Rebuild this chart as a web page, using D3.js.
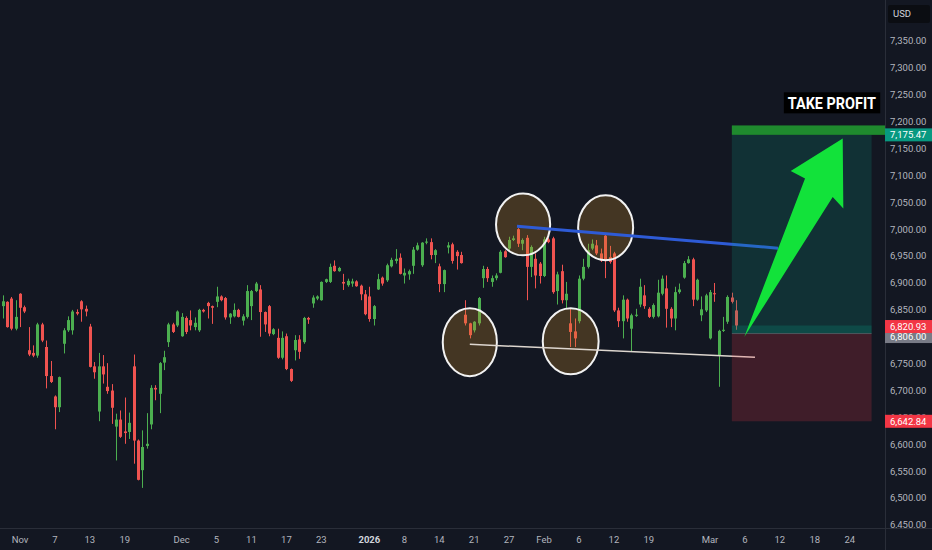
<!DOCTYPE html>
<html>
<head>
<meta charset="utf-8">
<script src="https://cdn.jsdelivr.net/npm/d3@7"></script>
<style>
  html, body { margin: 0; padding: 0; background: #131722; }
  svg { display: block; }
</style>
</head>
<body>
<svg id="display" width="932" height="550"></svg>
<script>
'use strict';
//data: 4h candles, bar 0 = Nov 3 morning
var FIRST_BAR = -4;

var opens = [
  6857, 6865, 6871, 6815, 6880, 6855, 6775, 6770, 6765, 6823,
  6781, 6727, 6689, 6669, 6787, 6812, 6812, 6846, 6866, 6852,
  6819, 6745, 6661, 6745, 6707, 6700, 6633, 6646, 6624, 6623,
  6745, 6607, 6552, 6597, 6637, 6705, 6694, 6752, 6790, 6823,
  6821, 6801, 6835, 6831, 6818, 6812, 6850, 6863, 6857, 6865,
  6875, 6872, 6836, 6838, 6850, 6830, 6837, 6857, 6885, 6888,
  6846, 6857, 6805, 6798, 6761, 6801, 6740, 6775, 6795, 6790,
  6835, 6862, 6871, 6868, 6902, 6902, 6932, 6922, 6902, 6896,
  6899, 6903, 6895, 6879, 6875, 6833, 6888, 6910, 6905, 6931,
  6941, 6947, 6914, 6916, 6932, 6962, 6933, 6975, 6976, 6952,
  6931, 6898, 6966, 6972, 6958, 6952, 6841, 6825, 6812, 6825,
  6909, 6926, 6902, 6909, 6919, 6959, 6964, 6980, 7000, 6973,
  6984, 6930, 6945, 6936, 6913, 6981, 6983, 6885, 6922, 6868,
  6825, 6810, 6829, 6908, 6930, 6964, 6970, 6955, 6988, 6948,
  6955, 6849, 6829, 6869, 6815, 6839, 6860, 6877, 6852, 6837,
  6838, 6880, 6890, 6852, 6834, 6883, 6910, 6937, 6944, 6869,
  6840, 6849, 6797, 6881, 6766, 6811, 6828, 6873, 6849
];
var highs = [
  6877, 6866, 6874, 6868, 6881, 6858, 6818, 6784, 6826, 6826,
  6793, 6755, 6691, 6726, 6816, 6838, 6850, 6851, 6868, 6858,
  6824, 6753, 6770, 6766, 6751, 6712, 6657, 6663, 6687, 6659,
  6767, 6609, 6626, 6658, 6710, 6710, 6753, 6774, 6826, 6826,
  6849, 6844, 6838, 6849, 6836, 6852, 6852, 6865, 6858, 6893,
  6877, 6874, 6844, 6862, 6852, 6842, 6896, 6887, 6902, 6896,
  6847, 6859, 6816, 6815, 6810, 6806, 6741, 6803, 6803, 6837,
  6837, 6877, 6877, 6903, 6908, 6936, 6942, 6930, 6917, 6908,
  6908, 6905, 6897, 6887, 6893, 6859, 6917, 6912, 6936, 6947,
  6963, 6955, 6927, 6925, 6967, 6975, 6976, 6983, 6983, 6963,
  6936, 6925, 6976, 6975, 6961, 6958, 6868, 6826, 6829, 6874,
  6932, 6930, 6914, 6918, 6961, 6961, 6986, 6988, 7002, 6983,
  6989, 6970, 6955, 6939, 6986, 6984, 6986, 6921, 6934, 6902,
  6852, 6834, 6914, 6945, 6973, 6981, 6980, 6964, 6990, 6969,
  6958, 6854, 6877, 6871, 6843, 6852, 6908, 6896, 6855, 6862,
  6906, 6914, 6914, 6855, 6893, 6899, 6941, 6950, 6947, 6908,
  6875, 6880, 6887, 6900, 6813, 6837, 6877, 6882, 6868
];
var lows = [
  6834, 6817, 6812, 6812, 6818, 6844, 6764, 6762, 6761, 6790,
  6704, 6714, 6628, 6660, 6769, 6809, 6804, 6840, 6828, 6838,
  6743, 6722, 6643, 6713, 6694, 6638, 6570, 6612, 6601, 6610,
  6564, 6533, 6519, 6592, 6628, 6682, 6658, 6738, 6781, 6807,
  6818, 6800, 6805, 6812, 6812, 6809, 6845, 6834, 6824, 6855,
  6866, 6832, 6824, 6836, 6836, 6821, 6834, 6831, 6883, 6800,
  6809, 6801, 6803, 6759, 6758, 6738, 6716, 6756, 6759, 6787,
  6824, 6854, 6868, 6867, 6900, 6900, 6921, 6921, 6887, 6893,
  6893, 6893, 6868, 6840, 6828, 6821, 6887, 6895, 6902, 6929,
  6936, 6916, 6899, 6906, 6917, 6960, 6930, 6972, 6944, 6937,
  6883, 6883, 6955, 6936, 6925, 6936, 6821, 6797, 6808, 6821,
  6891, 6902, 6893, 6905, 6918, 6947, 6961, 6978, 6967, 6961,
  6868, 6911, 6890, 6899, 6911, 6974, 6880, 6860, 6862, 6852,
  6781, 6781, 6825, 6905, 6927, 6961, 6952, 6939, 6909, 6936,
  6846, 6818, 6797, 6828, 6772, 6837, 6855, 6852, 6835, 6834,
  6836, 6877, 6817, 6818, 6812, 6880, 6908, 6936, 6857, 6867,
  6829, 6846, 6795, 6865, 6707, 6809, 6824, 6862, 6813
];
var closes = [
  6866, 6818, 6815, 6837, 6854, 6847, 6767, 6765, 6823, 6793,
  6727, 6716, 6669, 6725, 6812, 6831, 6847, 6843, 6851, 6847,
  6744, 6734, 6745, 6730, 6699, 6668, 6646, 6614, 6621, 6640,
  6607, 6534, 6595, 6601, 6705, 6702, 6751, 6762, 6823, 6809,
  6847, 6837, 6809, 6821, 6826, 6850, 6847, 6857, 6854, 6875,
  6868, 6836, 6843, 6850, 6837, 6838, 6885, 6885, 6899, 6846,
  6823, 6806, 6814, 6761, 6798, 6740, 6718, 6794, 6772, 6835,
  6832, 6873, 6875, 6902, 6907, 6930, 6922, 6928, 6899, 6904,
  6903, 6894, 6879, 6842, 6833, 6857, 6907, 6899, 6933, 6943,
  6945, 6917, 6919, 6922, 6962, 6970, 6975, 6977, 6952, 6961,
  6898, 6924, 6970, 6941, 6950, 6937, 6825, 6803, 6828, 6872,
  6926, 6909, 6909, 6914, 6958, 6948, 6980, 6983, 6973, 6980,
  6930, 6967, 6914, 6913, 6981, 6976, 6883, 6916, 6868, 6880,
  6809, 6797, 6908, 6930, 6961, 6973, 6955, 6942, 6942, 6939,
  6849, 6829, 6869, 6834, 6840, 6841, 6893, 6857, 6837, 6859,
  6882, 6908, 6852, 6834, 6883, 6888, 6937, 6944, 6869, 6906,
  6851, 6877, 6883, 6879, 6811, 6813, 6874, 6865, 6820.93
];

var priceTicks = [6450, 6500, 6550, 6600, 6650, 6700, 6750, 6800, 6850, 6900,
  6950, 7000, 7050, 7100, 7150, 7200, 7250, 7300, 7350];
var dateLabels = ['Nov', '7', '13', '19', 'Dec', '5', '11', '17', '23', '2026', '8', '14',
  '21', '27', 'Feb', '6', '12', '19', 'Mar', '6', '12', '18', '24'];
var dateBars = [0, 8, 16, 24, 37, 45, 53, 61, 69, 80, 88, 96,
  104, 112, 120, 128, 136, 144, 158, 166, 174, 182, 190];
var boldLabels = ['2026'];

//drawings, anchored in bar / price units
var lastPrice = 6820.93;
var entryPrice = 6806;
var targetPrice = 7175.47;
var stopPrice = 6642.84;
var positionBars = [163, 195];
var takeProfitBand = [7175.47, 7193];
var takeProfitText = [185.9, 7235];
var blueLine = [[113.8, 7005.6], [173.6, 6964.7]];
var whiteLine = [[103.0, 6786], [168.3, 6762]];
//center bar, center price, half width in bars, half height in points
var ellipses = [
  [115.2, 7009, 6.2, 57.6],
  [134.1, 7002.8, 6.3, 60.4],
  [103.0, 6789.9, 6.2, 63.2],
  [126.1, 6791.7, 6.4, 61.4]
];
var arrowPoints = [
  [165.85, 6799.7], [179.76, 7094.3], [176.48, 7108.4],
  [188.39, 7168.7], [188.53, 7038.5], [186.1, 7060.1]
];

//constants
var WIDTH = 932;
var HEIGHT = 550;
var PLOT_RIGHT = 885;
var PLOT_BOTTOM = 528;
var BG = '#131722';
var UP = '#4caf50';
var DOWN = '#ef5350';
var AXIS_TEXT = '#b2b5be';
var FONT = 'Roboto, "Noto Sans", sans-serif';
var LABEL_H = 13;

var x = d3.scaleLinear().domain([0, 158]).range([20, 710]);
var y = d3.scaleLinear().domain([6450, 7350]).range([525, 41]);

var svg = d3.select('#display');

svg.append('rect')
  .attr('width', WIDTH)
  .attr('height', HEIGHT)
  .attr('fill', BG);

svg.append('clipPath')
  .attr('id', 'plot-clip')
  .append('rect')
  .attr('width', PLOT_RIGHT)
  .attr('height', PLOT_BOTTOM);

var plot = svg.append('g').attr('clip-path', 'url(#plot-clip)');

var bars = opens.map(function(o, i) {
  return { b: FIRST_BAR + i, o: o, h: highs[i], l: lows[i], c: closes[i] };
});

drawCandles(bars);
drawEllipses();
drawLines();
drawPosition();
drawArrow();
drawAxes();

//helpers
function color(d) {
  return d.c >= d.o ? UP : DOWN;
}

function drawCandles(data) {
  var candle = plot.append('g')
    .selectAll('g')
    .data(data)
    .enter()
    .append('g');

  candle.append('line')
    .attr('x1', function(d) { return Math.round(x(d.b)) + 0.5; })
    .attr('x2', function(d) { return Math.round(x(d.b)) + 0.5; })
    .attr('y1', function(d) { return y(d.h); })
    .attr('y2', function(d) { return y(d.l); })
    .attr('stroke', color)
    .attr('stroke-width', 1);

  candle.append('rect')
    .attr('x', function(d) { return Math.round(x(d.b)) - 1; })
    .attr('width', 3)
    .attr('y', function(d) { return y(Math.max(d.o, d.c)); })
    .attr('height', function(d) {
      return Math.max(1, Math.abs(y(d.o) - y(d.c)));
    })
    .attr('fill', color);
}

function drawEllipses() {
  plot.append('g')
    .selectAll('ellipse')
    .data(ellipses)
    .enter()
    .append('ellipse')
    .attr('cx', function(d) { return x(d[0]); })
    .attr('cy', function(d) { return y(d[1]); })
    .attr('rx', function(d) { return x(d[2]) - x(0); })
    .attr('ry', function(d) { return y(0) - y(d[3]); })
    .attr('fill', 'rgba(205, 140, 40, 0.27)')
    .attr('stroke', '#f2f2f2')
    .attr('stroke-width', 2);
}

function drawLines() {
  var line = d3.line()
    .x(function(d) { return x(d[0]); })
    .y(function(d) { return y(d[1]); });

  plot.append('path')
    .attr('d', line(whiteLine))
    .attr('fill', 'none')
    .attr('stroke', '#ddd6cf')
    .attr('stroke-width', 1.5);

  plot.append('path')
    .attr('d', line(blueLine))
    .attr('fill', 'none')
    .attr('stroke', '#2e5bd6')
    .attr('stroke-width', 3);
}

function drawPosition() {
  var x0 = x(positionBars[0]);
  var x1 = x(positionBars[1]);

  plot.append('rect')
    .attr('x', x0)
    .attr('width', x1 - x0)
    .attr('y', y(targetPrice))
    .attr('height', y(entryPrice) - y(targetPrice))
    .attr('fill', 'rgba(8, 153, 129, 0.2)');

  plot.append('rect')
    .attr('x', x0)
    .attr('width', x1 - x0)
    .attr('y', y(lastPrice))
    .attr('height', y(entryPrice) - y(lastPrice))
    .attr('fill', 'rgba(8, 153, 129, 0.25)');

  plot.append('rect')
    .attr('x', x0)
    .attr('width', x1 - x0)
    .attr('y', y(entryPrice))
    .attr('height', y(stopPrice) - y(entryPrice))
    .attr('fill', 'rgba(242, 54, 69, 0.2)');

  plot.append('line')
    .attr('x1', x0)
    .attr('x2', x1)
    .attr('y1', y(entryPrice))
    .attr('y2', y(entryPrice))
    .attr('stroke', 'rgba(120, 123, 134, 0.5)')
    .attr('stroke-width', 1);

  //take profit band runs to the price scale
  plot.append('rect')
    .attr('x', x0)
    .attr('width', PLOT_RIGHT - x0)
    .attr('y', y(takeProfitBand[1]))
    .attr('height', y(takeProfitBand[0]) - y(takeProfitBand[1]))
    .attr('fill', '#1f8a2e');

  var label = plot.append('g');
  var box = label.append('rect').attr('fill', '#000');
  var text = label.append('text')
    .attr('x', x(takeProfitText[0]))
    .attr('y', y(takeProfitText[1]))
    .attr('dy', '0.36em')
    .attr('text-anchor', 'middle')
    .attr('font-family', FONT)
    .attr('font-weight', 'bold')
    .attr('font-size', 17)
    .attr('textLength', 88)
    .attr('lengthAdjust', 'spacingAndGlyphs')
    .attr('fill', '#ffffff')
    .text('TAKE PROFIT');
  var bb = text.node().getBBox();
  box.attr('x', bb.x - 4)
    .attr('y', y(takeProfitText[1]) - 10.5)
    .attr('width', bb.width + 8)
    .attr('height', 21);
}

function drawArrow() {
  plot.append('polygon')
    .attr('points', arrowPoints.map(function(p) {
      return x(p[0]) + ',' + y(p[1]);
    }).join(' '))
    .attr('fill', '#12e23a');
}

function priceLabel(price, text, bg, fg, shift) {
  var cy = y(price) + (shift || 0);
  svg.append('rect')
    .attr('x', PLOT_RIGHT)
    .attr('y', cy - LABEL_H / 2)
    .attr('width', WIDTH - PLOT_RIGHT)
    .attr('height', LABEL_H)
    .attr('fill', bg);
  svg.append('text')
    .attr('x', 890)
    .attr('y', cy)
    .attr('dy', '0.35em')
    .attr('font-family', FONT)
    .attr('font-size', 9.5)
    .attr('fill', fg)
    .text(text);
}

function drawAxes() {
  var fmt = d3.format(',.2f');

  //price scale
  svg.append('rect')
    .attr('x', PLOT_RIGHT)
    .attr('width', WIDTH - PLOT_RIGHT)
    .attr('height', HEIGHT)
    .attr('fill', BG);

  //tick labels sitting under a price label only show their uncovered part
  var covered = [y(stopPrice) - LABEL_H / 2];
  svg.append('clipPath')
    .attr('id', 'stop-clip')
    .append('rect')
    .attr('x', PLOT_RIGHT)
    .attr('y', 0)
    .attr('width', WIDTH - PLOT_RIGHT)
    .attr('height', covered[0]);

  svg.append('g')
    .selectAll('text')
    .data(priceTicks)
    .enter()
    .append('text')
    .attr('x', 890)
    .attr('y', function(d) { return y(d); })
    .attr('dy', '0.35em')
    .attr('font-family', FONT)
    .attr('font-size', 9.5)
    .attr('fill', AXIS_TEXT)
    .attr('clip-path', function(d) {
      return Math.abs(y(d) - y(stopPrice)) < LABEL_H ? 'url(#stop-clip)' : null;
    })
    .text(function(d) { return fmt(d); });

  //time scale
  svg.append('rect')
    .attr('y', PLOT_BOTTOM)
    .attr('width', WIDTH)
    .attr('height', HEIGHT - PLOT_BOTTOM)
    .attr('fill', BG);

  svg.append('g')
    .selectAll('text')
    .data(dateLabels)
    .enter()
    .append('text')
    .attr('x', function(d, i) { return x(dateBars[i]); })
    .attr('y', 540)
    .attr('dy', '0.35em')
    .attr('text-anchor', 'middle')
    .attr('font-family', FONT)
    .attr('font-size', 9.5)
    .attr('font-weight', function(d) { return boldLabels.indexOf(d) >= 0 ? 'bold' : 'normal'; })
    .attr('fill', function(d) { return boldLabels.indexOf(d) >= 0 ? '#d1d4dc' : AXIS_TEXT; })
    .text(function(d) { return d; });

  svg.append('line')
    .attr('x1', PLOT_RIGHT + 0.5)
    .attr('x2', PLOT_RIGHT + 0.5)
    .attr('y1', 0)
    .attr('y2', HEIGHT)
    .attr('stroke', '#2a2e39');
  svg.append('line')
    .attr('x1', 0)
    .attr('x2', WIDTH)
    .attr('y1', PLOT_BOTTOM + 0.5)
    .attr('y2', PLOT_BOTTOM + 0.5)
    .attr('stroke', '#2a2e39');

  //currency box
  svg.append('rect')
    .attr('x', 888)
    .attr('y', 5)
    .attr('width', 42)
    .attr('height', 18)
    .attr('rx', 2)
    .attr('fill', '#0b0d12');
  svg.append('text')
    .attr('x', 893)
    .attr('y', 14)
    .attr('dy', '0.35em')
    .attr('font-family', FONT)
    .attr('font-size', 9.5)
    .attr('fill', '#d1d4dc')
    .text('USD');

  //price labels
  priceLabel(targetPrice, fmt(targetPrice), '#089981', '#ffffff');
  priceLabel(entryPrice, fmt(entryPrice), '#787b86', '#ffffff', 3);
  priceLabel(lastPrice, fmt(lastPrice), '#f23645', '#ffffff', 1);
  priceLabel(stopPrice, fmt(stopPrice), '#f23645', '#ffffff');
}
</script>
</body>
</html>
